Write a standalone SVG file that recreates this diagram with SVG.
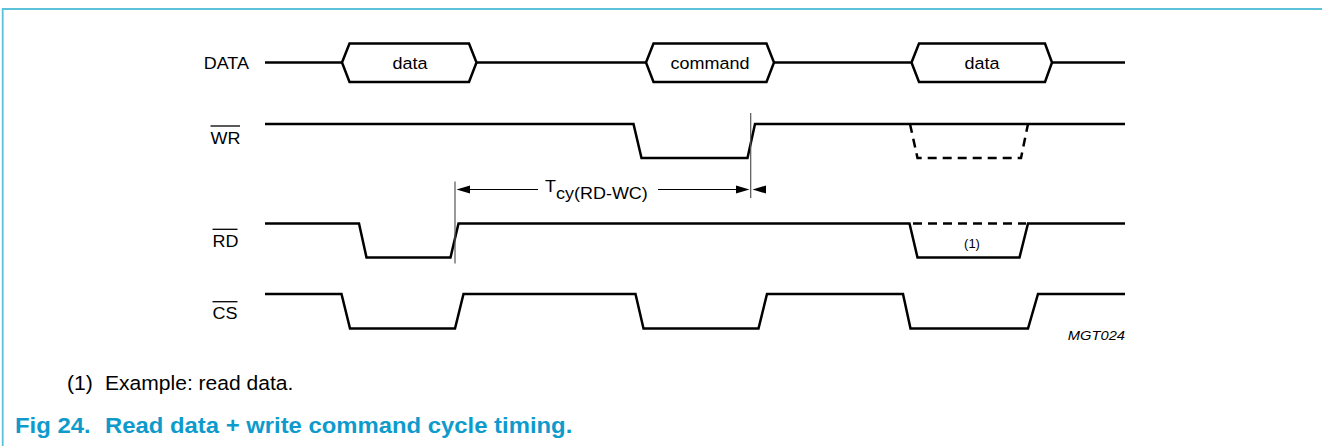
<svg xmlns="http://www.w3.org/2000/svg" width="1322" height="446" viewBox="0 0 1322 446">
<style>
.sig{fill:none;stroke:#000;stroke-width:2.5;stroke-linejoin:miter}
.dash{fill:none;stroke:#000;stroke-width:2.5;stroke-dasharray:9 6}
.lbl{font-family:"Liberation Sans",Arial,sans-serif;font-size:16.5px;fill:#000}
.ov{stroke:#000;stroke-width:1.3}
.mk{stroke:#555;stroke-width:1.2}
.dim{stroke:#000;stroke-width:1.2}
.ah{fill:#000}
.note{font-family:"Liberation Sans",Arial,sans-serif;font-size:19.5px;fill:#000}
.cap{font-family:"Liberation Sans",Arial,sans-serif;font-size:21.5px;font-weight:bold;fill:#0e9bcc}
</style>
<rect width="1322" height="446" fill="#fff"/>
<g id="frame" fill="none" stroke="#5bc2d9" stroke-width="1.8">
<path d="M2.7,446 V9 H1322"/>
</g>
<g id="DATA">
<text class="lbl" transform="translate(249,68.5) scale(1.09,1)" text-anchor="end">DATA</text>
<path class="sig" d="M265,62.5 H342"/>
<path class="sig" d="M342,62.5 L349.5,43.5 H469 L476.5,62.5 L469,82 H349.5 Z"/>
<text class="lbl" transform="translate(410,68.5) scale(1.09,1)" text-anchor="middle">data</text>
<path class="sig" d="M476.5,62.5 H646"/>
<path class="sig" d="M646,62.5 L653.5,43.5 H766.5 L774,62.5 L766.5,82 H653.5 Z"/>
<text class="lbl" transform="translate(710,68.5) scale(1.09,1)" text-anchor="middle">command</text>
<path class="sig" d="M774,62.5 H911.5"/>
<path class="sig" d="M911.5,62.5 L919,43.5 H1045 L1052,62.5 L1045,82 H919 Z"/>
<text class="lbl" transform="translate(982,68.5) scale(1.09,1)" text-anchor="middle">data</text>
<path class="sig" d="M1052,62.5 H1125"/>
</g>
<g id="WR">
<text class="lbl" transform="translate(210.5,143.5) scale(1.09,1)">WR</text>
<line class="ov" x1="210.5" y1="126" x2="240" y2="126"/>
<path class="sig" d="M265,124 H633.5 L641.5,158 H747.5 L755,124 H1125"/>
<path class="dash" d="M910,124 L917.5,158 H1021 L1028,124"/>
</g>
<g id="RD">
<text class="lbl" transform="translate(212.5,246.5) scale(1.09,1)">RD</text>
<line class="ov" x1="212.5" y1="229.3" x2="237.5" y2="229.3"/>
<path class="sig" d="M265,223.5 H359 L366.5,257.5 H450.5 L458.5,223.5 H909.5 L917.5,257.5 H1019.5 L1028,223.5 H1125"/>
<path class="dash" d="M913,223.5 H1026"/>
<text x="972" y="248" text-anchor="middle" font-family="Liberation Sans, Arial, sans-serif" font-size="13">(1)</text>
</g>
<g id="CS">
<text class="lbl" transform="translate(212.5,318.5) scale(1.09,1)">CS</text>
<line class="ov" x1="212.5" y1="301.7" x2="237.5" y2="301.7"/>
<path class="sig" d="M265,294 H341.5 L350,328.5 H455 L463.5,294 H635.5 L643.5,328.5 H758.5 L767,294 H903 L910.5,328.5 H1028 L1038,294 H1125"/>
</g>
<g id="connectors">
<line class="mk" x1="455" y1="181.5" x2="455" y2="263.5"/>
<line class="mk" x1="750.7" y1="113" x2="750.7" y2="198"/>
<line class="dim" x1="468" y1="189.5" x2="538" y2="189.5"/>
<polygon class="ah" points="456.5,189.5 470,185.5 470,193.5"/>
<line class="dim" x1="658" y1="189.5" x2="738" y2="189.5"/>
<polygon class="ah" points="749.5,189.5 736,185.5 736,193.5"/>
<polygon class="ah" points="752.5,189.5 766,185.5 766,193.5"/>
<text class="lbl" transform="translate(545,192) scale(1.09,1)">T<tspan dy="7">cy(RD-WC)</tspan></text>
</g>
<text transform="translate(1125,340) scale(1.09,1)" text-anchor="end" font-family="Liberation Sans, Arial, sans-serif" font-size="13.5" font-style="italic">MGT024</text>
<g id="notes">
<text class="note" transform="translate(67,390) scale(1.08,1)">(1)</text>
<text class="note" transform="translate(105,390) scale(1.08,1)">Example: read data.</text>
<text class="cap" transform="translate(15,433) scale(1.11,1)">Fig 24.</text>
<text class="cap" transform="translate(105,433) scale(1.11,1)">Read data + write command cycle timing.</text>
</g>
</svg>
